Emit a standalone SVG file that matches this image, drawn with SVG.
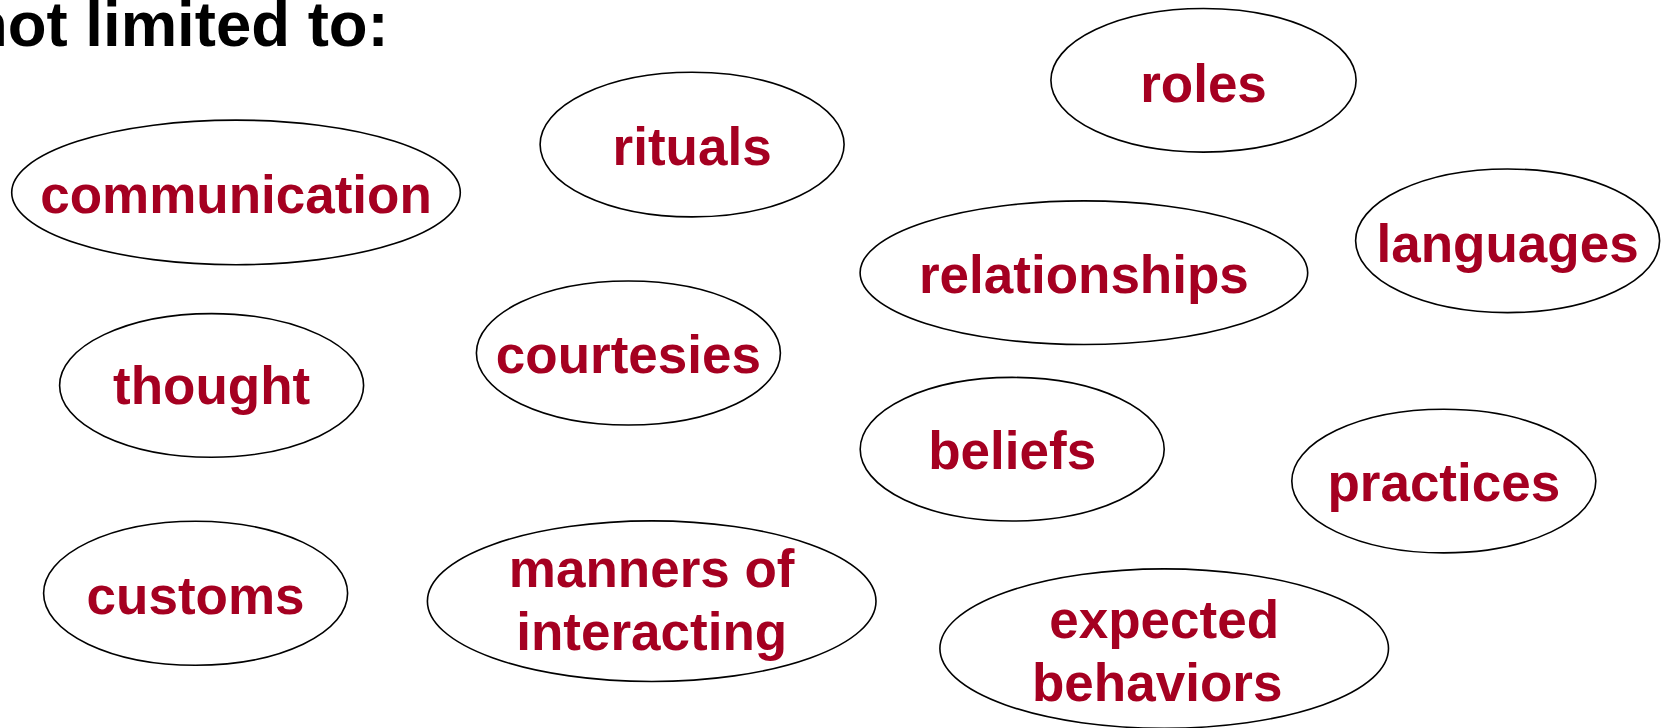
<svg xmlns="http://www.w3.org/2000/svg" width="1667" height="728" viewBox="0 0 1667 728">
<style>
.bg{fill:#ffffff}
.node ellipse{fill:#ffffff;stroke:#000000;stroke-width:1.6}
.node text{font-family:"Liberation Sans",Arial,sans-serif;font-weight:bold;font-size:53px;fill:#A50021;text-anchor:middle}
.title{font-family:"Liberation Sans",Arial,sans-serif;font-weight:bold;font-size:63.5px;fill:#000000}
</style>
<rect class="bg" x="0" y="0" width="1667" height="728"/>
<text class="title" x="-31" y="45.5">not limited to:</text>
<g id="connectors"></g>
<g id="communication" class="node"><ellipse cx="236" cy="192.4" rx="224.3" ry="72.3"/><text x="236" y="213">communication</text></g>
<g id="rituals" class="node"><ellipse cx="692.1" cy="144.6" rx="152" ry="72.3"/><text x="692.1" y="164.5">rituals</text></g>
<g id="roles" class="node"><ellipse cx="1203.5" cy="80.3" rx="152.6" ry="71.8"/><text x="1203.5" y="102">roles</text></g>
<g id="languages" class="node"><ellipse cx="1507.6" cy="240.8" rx="152" ry="71.8"/><text x="1507.6" y="261.5">languages</text></g>
<g id="relationships" class="node"><ellipse cx="1083.9" cy="272.7" rx="223.8" ry="71.8"/><text x="1083.9" y="293.4">relationships</text></g>
<g id="thought" class="node"><ellipse cx="211.6" cy="385.4" rx="152" ry="71.8"/><text x="211.6" y="403.5">thought</text></g>
<g id="courtesies" class="node"><ellipse cx="628.4" cy="353" rx="152" ry="72"/><text x="628.4" y="373">courtesies</text></g>
<g id="beliefs" class="node"><ellipse cx="1012.2" cy="449.2" rx="152" ry="71.8"/><text x="1012.2" y="468.9">beliefs</text></g>
<g id="practices" class="node"><ellipse cx="1443.8" cy="481.1" rx="152" ry="71.8"/><text x="1443.8" y="500.8">practices</text></g>
<g id="customs" class="node"><ellipse cx="195.6" cy="593.3" rx="152" ry="72"/><text x="195.6" y="613.5">customs</text></g>
<g id="manners" class="node"><ellipse cx="651.7" cy="601.2" rx="224.3" ry="80.3"/><text x="651.7" y="586.5">manners of</text><text x="651.7" y="649.5">interacting</text></g>
<g id="expected" class="node"><ellipse cx="1164.2" cy="648.6" rx="224.3" ry="79.7"/><text x="1164.2" y="637.7">expected</text><text x="1157.2" y="700.7">behaviors</text></g>
</svg>
